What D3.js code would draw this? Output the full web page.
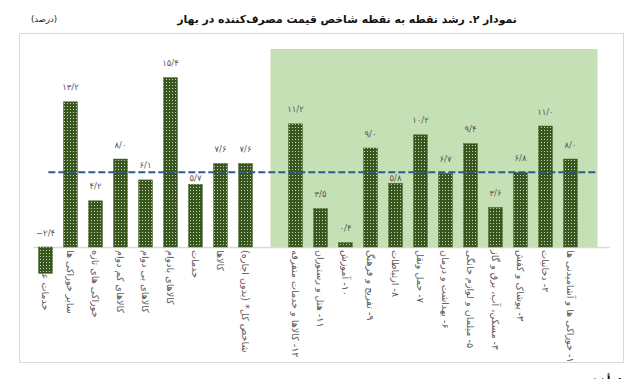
<!DOCTYPE html>
<html>
<head>
<meta charset="utf-8">
<script src="https://cdn.jsdelivr.net/npm/d3@7"></script>
<style>
  html, body { margin: 0; padding: 0; background: #ffffff; }
  svg { display: block; }
  text { font-family: "DejaVu Sans", "Noto Sans", sans-serif; }
</style>
</head>
<body>
<svg id="chart" width="642" height="379"></svg>
<script>
// ---------- data ----------
const leftCategories = ["خدمات عمومی", "سایر خوراکی ها", "خوراکی های تازه", "کالاهای کم دوام", "کالاهای بی دوام", "کالاهای بادوام", "خدمات", "کالاها", "شاخص کل* (بدون اجاره)"];
const leftValues = [-2.4, 13.2, 4.2, 8.0, 6.1, 15.4, 5.7, 7.6, 7.6];
const rightCategories = ["۱۲- کالاها و خدمات متفرقه", "۱۱- هتل و رستوران", "۱۰- آموزش", "۹- تفریح و فرهنگ", "۸- ارتباطات", "۷- حمل ونقل", "۶- بهداشت و درمان", "۵- مبلمان و لوازم خانگی", "۴- مسکن، آب، برق و گاز", "۳- پوشاک و کفش", "۲- دخانیات", "۱- خوراکی ها و آشامیدنی ها"];
const rightValues = [11.2, 3.5, 0.4, 9.0, 5.8, 10.2, 6.7, 9.4, 3.6, 6.8, 11.0, 8.0];
const referenceLine = 6.8;
const highlightTop = 18;
const titleText = "نمودار ۲. رشد نقطه به نقطه شاخص قیمت مصرف‌کننده در بهار";
const unitText = "(درصد)";
const sourceText = "مأخذ:";

// ---------- helpers ----------
const faDigits = "۰۱۲۳۴۵۶۷۸۹";
function toFa(v) {
  return v.toFixed(1).replace(/[0-9]/g, d => faDigits[+d]).replace(".", "/").replace("-", "−");
}

const GAP1 = "__gap1", GAP2 = "__gap2";
const rows = leftCategories.map((c, i) => ({ cat: c, value: leftValues[i] }))
  .concat(rightCategories.map((c, i) => ({ cat: c, value: rightValues[i] })));
const domain = leftCategories.concat([GAP1], rightCategories, [GAP2]);

const svg = d3.select("#chart");

// outer frame
svg.append("rect").attr("x", 19.5).attr("y", 33.5).attr("width", 604).attr("height", 329)
  .attr("fill", "#fff").attr("stroke", "#d9d9d9").attr("stroke-width", 1);

// title (fit to reference width)
const title = svg.append("text").attr("x", 347).attr("y", 23).attr("text-anchor", "middle")
  .attr("font-size", 13).attr("font-weight", "bold").attr("fill", "#111")
  .text(titleText);
const tw = title.node().getComputedTextLength();
if (tw > 0) title.attr("font-size", 13 * 340 / tw);

svg.append("text").attr("x", 44).attr("y", 22).attr("text-anchor", "middle")
  .attr("font-size", 8.5).attr("fill", "#222").text(unitText);

// scales
const x = d3.scaleBand().domain(domain).range([33, 608]).paddingInner(0.44).paddingOuter(0.22);
const y = d3.scaleLinear().domain([0, highlightTop]).range([247, 49]);
const bw = x.bandwidth();

// pattern
const defs = svg.append("defs");
const pat = defs.append("pattern").attr("id", "dots").attr("patternUnits", "userSpaceOnUse")
  .attr("width", 3).attr("height", 3);
pat.append("rect").attr("width", 3).attr("height", 3).attr("fill", "#38561e");
pat.append("rect").attr("x", 1).attr("y", 1).attr("width", 1).attr("height", 1).attr("fill", "#c9d8b6");

// green highlight
const gx0 = x(GAP1) + bw / 2, gx1 = x(GAP2) + bw / 2 + 2;
svg.append("rect").attr("x", gx0).attr("y", y(highlightTop)).attr("width", gx1 - gx0)
  .attr("height", y(0) - y(highlightTop)).attr("fill", "#c5e0b4");

// baseline
svg.append("line").attr("x1", 33).attr("x2", 610).attr("y1", y(0) + 0.5).attr("y2", y(0) + 0.5)
  .attr("stroke", "#d9d9d9").attr("stroke-width", 1.5);

// category labels (rotated)
svg.append("g").selectAll("text").data(rows).join("text")
  .attr("transform", d => `translate(${x(d.cat) + bw / 2},${y(0) + 3}) rotate(90)`)
  .attr("direction", "rtl").attr("text-anchor", "end").attr("dominant-baseline", "central")
  .attr("font-size", 9.6).attr("fill", "#595959")
  .text(d => d.cat);

// bars
svg.append("g").selectAll("rect").data(rows).join("rect")
  .attr("x", d => x(d.cat))
  .attr("width", bw)
  .attr("y", d => y(Math.max(0, d.value)))
  .attr("height", d => Math.abs(y(d.value) - y(0)))
  .attr("fill", "url(#dots)")
  .attr("stroke", "#4d6e33").attr("stroke-width", 0.5);

// reference dashed line
const dashY = y(referenceLine);
svg.append("line").attr("x1", x(leftCategories[0]) + bw * 0.7).attr("x2", x(GAP2) + bw / 2 + 2)
  .attr("y1", dashY).attr("y2", dashY)
  .attr("stroke", "#2f5a8c").attr("stroke-width", 2).attr("stroke-dasharray", "7,3");

// value labels
svg.append("g").selectAll("text").data(rows).join("text")
  .attr("x", d => x(d.cat) + bw / 2)
  .attr("y", d => {
    let c = y(Math.max(0, d.value)) - 15;
    if (Math.abs(c - dashY) < 7) c = dashY + 5;
    return c + 3.5;
  })
  .attr("text-anchor", "middle").attr("font-size", 8.5).attr("fill", "#595959")
  .text(d => toFa(d.value));

// source
svg.append("text").attr("x", 622).attr("y", 384).attr("text-anchor", "end")
  .attr("font-size", 11).attr("font-weight", "bold").attr("fill", "#111")
  .text(sourceText);
</script>
</body>
</html>
